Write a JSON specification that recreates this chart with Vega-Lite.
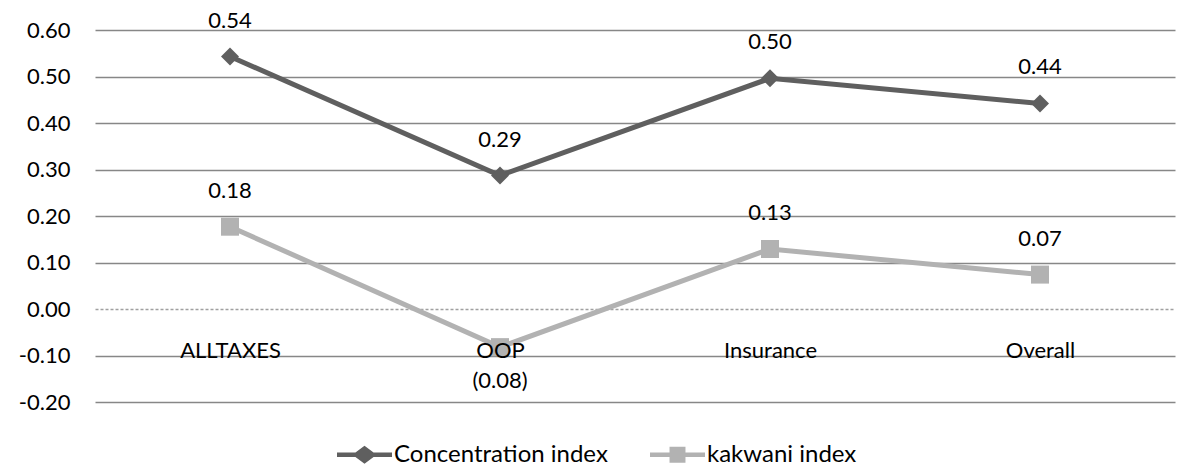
{
  "$schema": "https://vega.github.io/schema/vega-lite/v6.json",
  "width": 1080,
  "height": 372,
  "autosize": {"type": "none"},
  "padding": {"left": 95, "top": 30, "right": 5, "bottom": 65},
  "background": "white",
  "config": {"view": {"stroke": null}, "font": "Lato"},
  "data": {
    "values": [
      {"category": "ALLTAXES", "series": "Concentration index", "value": 0.543},
      {"category": "OOP", "series": "Concentration index", "value": 0.287},
      {"category": "Insurance", "series": "Concentration index", "value": 0.496},
      {"category": "Overall", "series": "Concentration index", "value": 0.442},
      {"category": "ALLTAXES", "series": "kakwani index", "value": 0.177},
      {"category": "OOP", "series": "kakwani index", "value": -0.082},
      {"category": "Insurance", "series": "kakwani index", "value": 0.129},
      {"category": "Overall", "series": "kakwani index", "value": 0.074}
    ]
  },
  "encoding": {
    "x": {
      "field": "category",
      "type": "nominal",
      "sort": null,
      "scale": {"type": "point", "padding": 0.5},
      "axis": {
        "orient": "bottom",
        "offset": -93,
        "domain": false,
        "ticks": false,
        "grid": false,
        "labelAngle": 0,
        "labelPadding": 41,
        "labelBaseline": "middle",
        "labelFontSize": 22,
        "labelColor": "#000000",
        "title": null,
        "zindex": 1
      }
    },
    "y": {
      "field": "value",
      "type": "quantitative",
      "scale": {"domain": [-0.2, 0.6], "nice": false, "zero": false},
      "axis": {
        "values": [-0.2, -0.1, 0, 0.1, 0.2, 0.3, 0.4, 0.5, 0.6],
        "format": ".2f",
        "labelExpr": "replace(datum.label, '−', '-')",
        "domain": false,
        "ticks": false,
        "labelPadding": 25,
        "labelFontSize": 22,
        "labelColor": "#000000",
        "gridColor": {"condition": {"test": "datum.value === 0", "value": "#a0a0a0"}, "value": "#878787"},
        "gridDash": {"condition": {"test": "datum.value === 0", "value": [3, 2]}, "value": []},
        "gridWidth": 1.5,
        "title": null
      }
    },
    "color": {
      "field": "series",
      "type": "nominal",
      "sort": null,
      "scale": {"domain": ["Concentration index", "kakwani index"], "range": ["#5f5f5f", "#b2b2b2"]},
      "legend": {
        "orient": "none",
        "legendX": 242,
        "legendY": 397,
        "direction": "horizontal",
        "title": null,
        "labelFontSize": 24,
        "labelLimit": 0,
        "labelColor": "#000000",
        "symbolSize": 3025,
        "labelOffset": 2,
        "columnPadding": 42,
        "encode": {
          "symbols": {
            "update": {
              "shape": {"signal": "datum.value === 'Concentration index' ? 'M-1,-0.08L-0.33,-0.08L0,-0.33L0.33,-0.08L1,-0.08L1,0.08L0.33,0.08L0,0.33L-0.33,0.08L-1,0.08Z' : 'M-1,-0.08L-0.29,-0.08L-0.29,-0.29L0.29,-0.29L0.29,-0.08L1,-0.08L1,0.08L0.29,0.08L0.29,0.29L-0.29,0.29L-0.29,0.08L-1,0.08Z'"},
              "fill": {"signal": "scale('color', datum.value)"},
              "strokeWidth": {"value": 0},
              "opacity": {"value": 1}
            }
          }
        }
      }
    }
  },
  "layer": [
    {"mark": {"type": "line", "strokeWidth": 5}},
    {
      "transform": [{"filter": "datum.series === 'Concentration index'"}],
      "mark": {"type": "point", "shape": "diamond", "filled": true, "opacity": 1, "size": 324}
    },
    {
      "transform": [{"filter": "datum.series === 'kakwani index'"}],
      "mark": {"type": "point", "shape": "square", "filled": true, "opacity": 1, "size": 324}
    },
    {
      "transform": [{"filter": "datum.value >= 0"}],
      "mark": {"type": "text", "dy": -36, "fontSize": 22, "baseline": "middle"},
      "encoding": {
        "text": {"field": "value", "type": "quantitative", "format": "(.2f"},
        "color": {"value": "#000000"}
      }
    },
    {
      "transform": [{"filter": "datum.value < 0"}],
      "mark": {"type": "text", "dy": 34, "fontSize": 22, "baseline": "middle"},
      "encoding": {
        "text": {"field": "value", "type": "quantitative", "format": "(.2f"},
        "color": {"value": "#000000"}
      }
    }
  ]
}
